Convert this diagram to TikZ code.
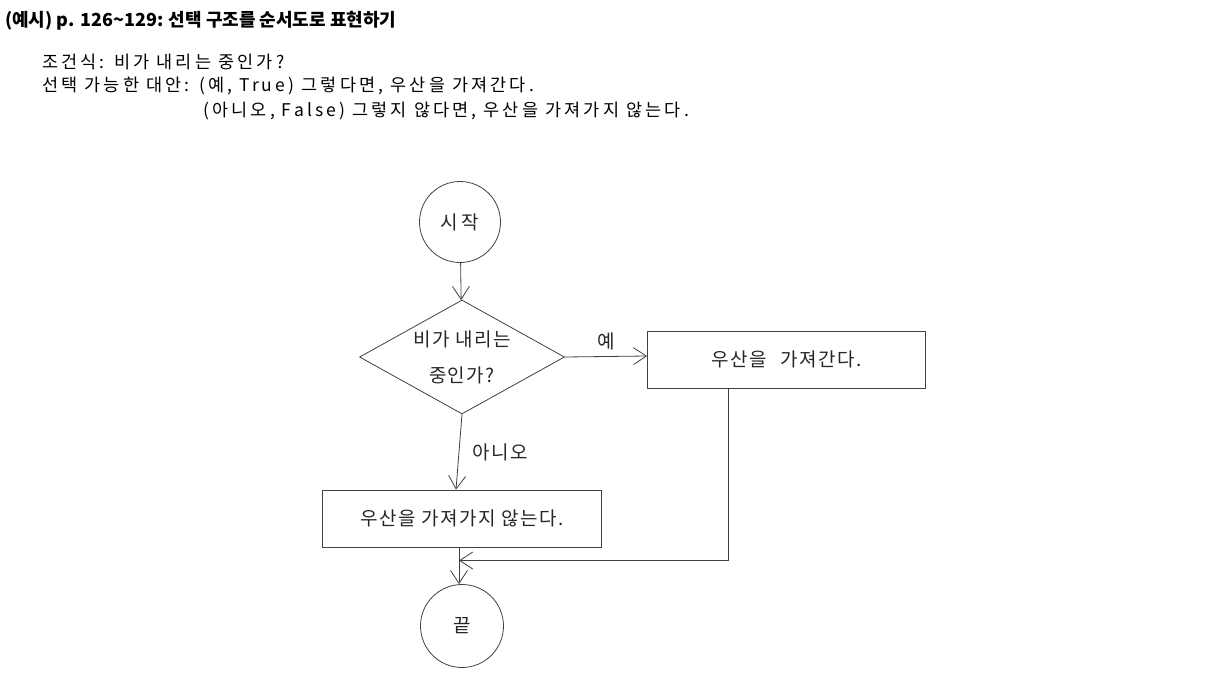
\documentclass[tikz,border=0pt]{standalone}
\usepackage{fontspec}
\setmainfont{Noto Sans CJK KR}
\newfontfamily\spacedfont[LetterSpace=18]{Noto Sans CJK KR}
\newfontfamily\handfont[LetterSpace=8]{Noto Sans CJK KR}
\usetikzlibrary{arrows.meta, positioning, shapes.geometric}

\tikzset{
  flowline/.style={draw=black!75, line width=0.8pt},
  flowarrow/.style={flowline, -{Straight Barb[length=13pt, width=17pt]}},
  hand/.style={font=\handfont\fontsize{19}{36}\selectfont, text=black!85},
  terminal/.style={circle, flowline, hand, minimum size=81pt, inner sep=0pt},
  decision/.style={diamond, flowline, hand, aspect=1.78, minimum width=205pt,
    minimum height=114pt, inner sep=0pt, align=center},
  process/.style={rectangle, flowline, hand, minimum height=57pt, inner sep=0pt},
  infoline/.style={anchor=west, inner sep=0pt, font=\spacedfont\fontsize{17.5}{19}\selectfont}
}

\begin{document}
\begin{tikzpicture}[x=1pt, y=-1pt]
\useasboundingbox (0,0) rectangle (1207,693);

% heading and notes
\node[anchor=west, inner sep=0pt, font=\bfseries\fontsize{18}{20}\selectfont] (title) at (5,21)
    {(예시) p. 126\textasciitilde129: 선택 구조를 순서도로 표현하기};
\node[infoline] (cond) at (42,62) {조건식: 비가 내리는 중인가?};
\node[infoline] (alt1) at (42,86) {선택 가능한 대안: (예, True) 그렇다면, 우산을 가져간다.};
\node[infoline] (alt2) at (203,111) {(아니오, False) 그렇지 않다면, 우산을 가져가지 않는다.};

% flowchart
\node[terminal] (start) at (460,222) {시\,작};
\node[decision] (rain) at (462,357) {비가 내리는\\중인가?};
\node[process, minimum width=278pt] (takeit) at (786.5,359.5) {우산을\hspace{0.7em}가져간다.};
\node[process, minimum width=279pt] (leaveit) at (462,518.5) {우산을 가져가지 않는다.};
\node[terminal, minimum size=83pt] (finish) at (462,626) {끝};
\coordinate (merge) at (459,560.5);

\draw[flowarrow] (start) -- (rain);
\draw[flowarrow] (rain.east) -- ([yshift=3.5pt]takeit.west)
    node[midway, above=3pt, hand] {예};
\draw[flowarrow] (rain.south) -- ([xshift=-6pt]leaveit.north)
    node[midway, right=10pt, hand] {아니오};
\draw[flowarrow] ([xshift=-58.5pt]takeit.south) |- (merge);
\draw[flowarrow] (merge |- leaveit.south) -- (merge |- finish.north);
\end{tikzpicture}
\end{document}
